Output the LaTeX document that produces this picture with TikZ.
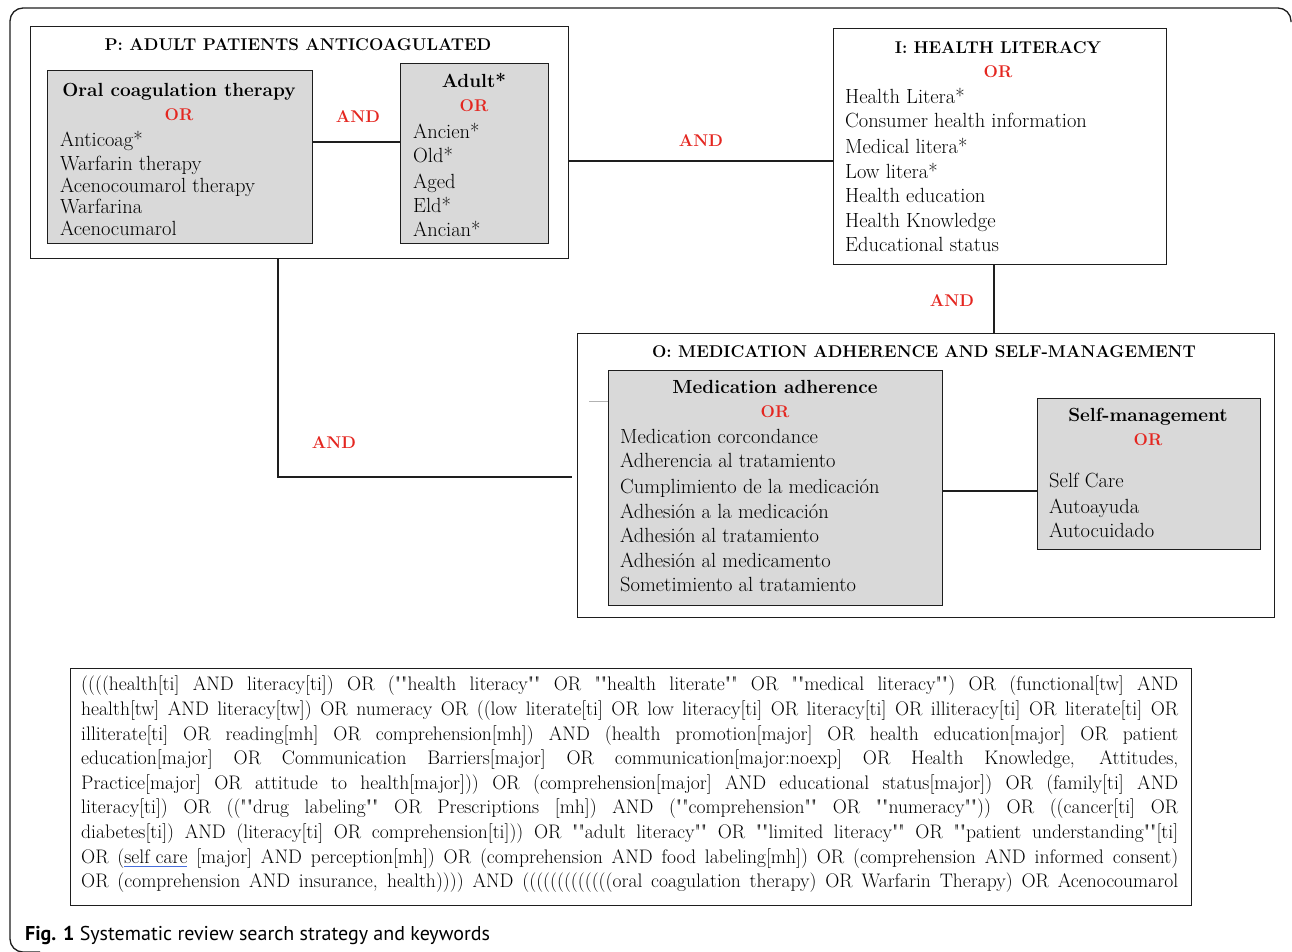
\documentclass[tikz,border=0pt]{standalone}
\usepackage{fontspec}
\newfontfamily\capfont{PT Sans}
\definecolor{orred}{RGB}{228,38,32}
\definecolor{boxgray}{RGB}{217,217,217}
\definecolor{linec}{RGB}{30,30,30}
\definecolor{ulblue}{RGB}{70,110,220}
\newcommand{\qline}[1]{\makebox[1097pt][s]{#1}}
\newcommand{\qq}{\textquotedbl\textquotedbl}
\newcommand{\bluul}[1]{\leavevmode\setbox0\hbox{#1}\rlap{\color{ulblue}\rule[-4pt]{\wd0}{1.2pt}}\box0\relax}
\begin{document}
\begin{tikzpicture}[x=1pt,y=-1pt,
  frame/.style={draw=linec, line width=1.4pt, rectangle, anchor=north west, inner sep=0pt},
  grayframe/.style={frame, fill=boxgray},
  ttl/.style={font=\fontsize{17}{20}\selectfont\bfseries, anchor=base, inner sep=0pt},
  subttl/.style={ttl, font=\fontsize{19}{22}\selectfont\bfseries},
  item/.style={font=\fontsize{20.5}{22}\selectfont, anchor=base west, inner sep=0pt},
  ortxt/.style={font=\fontsize{17}{20}\selectfont\bfseries, text=orred, anchor=base, inner sep=0pt},
  conn/.style={draw=linec, line width=1.3pt},
]
\useasboundingbox (0,0) rectangle (1292,951);
% outer frame
\draw[linec, line width=1.3pt, rounded corners=13] (40,952) -- (10,952) -- (10,8) -- (1291,8) -- (1291,22);

% P box
\node[frame, minimum width=538pt, minimum height=232pt] (P) at (30,26) {};
\node[ttl] (Pt) at (298,50) {P: ADULT PATIENTS ANTICOAGULATED};
\node[grayframe, minimum width=265pt, minimum height=173pt] (oral) at (47,70) {};
\node[subttl] (oralT) at (179,96) {Oral coagulation therapy};
\node[ortxt] (oralOR) at (179,120) {OR};
\node[item] (o1) at (60,146) {Anticoag*};
\node[item] (o2) at (60,170) {Warfarin therapy};
\node[item] (o3) at (60,192) {Acenocoumarol therapy};
\node[item] (o4) at (60,213) {Warfarina};
\node[item] (o5) at (60,235) {Acenocumarol};
\node[grayframe, minimum width=148pt, minimum height=180pt] (adult) at (400,63) {};
\node[subttl] (adultT) at (474,87) {Adult*};
\node[ortxt] (adultOR) at (474,111) {OR};
\node[item] (a1) at (413,138) {Ancien*};
\node[item] (a2) at (413,162) {Old*};
\node[item] (a3) at (413,188) {Aged};
\node[item] (a4) at (413,212) {Eld*};
\node[item] (a5) at (413,236) {Ancian*};
\coordinate (yOA) at (0,142);
\draw[conn] (oral.east |- yOA) -- (adult.west |- yOA);
\node[ortxt] (and1) at (358,122) {AND};

% I box
\node[frame, minimum width=333pt, minimum height=236pt] (I) at (833,28) {};
\node[ttl] (It) at (998,53) {I: HEALTH LITERACY};
\node[ortxt] (IOR) at (998,77) {OR};
\node[item] (i1) at (845,103) {Health Litera*};
\node[item] (i2) at (845,127) {Consumer health information};
\node[item] (i3) at (845,153) {Medical litera*};
\node[item] (i4) at (845,178) {Low litera*};
\node[item] (i5) at (845,202) {Health education};
\node[item] (i6) at (845,227) {Health Knowledge};
\node[item] (i7) at (845,251) {Educational status};
\coordinate (yPI) at (0,161);
\draw[conn] (P.east |- yPI) -- (I.west |- yPI);
\node[ortxt] (and2) at (701,146) {AND};

% O box
\node[frame, minimum width=697pt, minimum height=284pt] (O) at (577,333) {};
\node[ttl] (Ot) at (924,357) {O: MEDICATION ADHERENCE AND SELF-MANAGEMENT};
\node[grayframe, minimum width=334pt, minimum height=235pt] (med) at (608,370) {};
\node[subttl] (medT) at (775,393) {Medication adherence};
\node[ortxt] (medOR) at (775,417) {OR};
\node[item] (m1) at (620,443) {Medication corcondance};
\node[item] (m2) at (620,467) {Adherencia al tratamiento};
\node[item] (m3) at (620,493) {Cumplimiento de la medicación};
\node[item] (m4) at (620,518) {Adhesión a la medicación};
\node[item] (m5) at (620,542) {Adhesión al tratamiento};
\node[item] (m6) at (620,567) {Adhesión al medicamento};
\node[item] (m7) at (620,591) {Sometimiento al tratamiento};
\node[grayframe, minimum width=223pt, minimum height=151pt] (self) at (1037,398) {};
\node[subttl] (selfT) at (1148,421) {Self-management};
\node[ortxt] (selfOR) at (1148,445) {OR};
\node[item] (s1) at (1049,487) {Self Care};
\node[item] (s2) at (1049,513) {Autoayuda};
\node[item] (s3) at (1049,537) {Autocuidado};
\coordinate (yMS) at (0,491);
\draw[conn] (med.east |- yMS) -- (self.west |- yMS);
\coordinate (stub) at (589,401);
\draw[gray!60, line width=0.8pt] (stub) -- (stub -| med.west);

% I to O
\coordinate (xIO) at (994,0);
\draw[conn] (xIO |- I.south) -- (xIO |- O.north);
\node[ortxt] (and3) at (952,306) {AND};

% P to O
\coordinate (pj) at (278,477);
\coordinate (pe) at (572,477);
\draw[conn] (pj |- P.south) -- (pj) -- (pe);
\node[ortxt] (and4) at (334,448) {AND};

% query box
\node[frame, line width=1.2pt, minimum width=1121pt, minimum height=237pt] (q) at (70,668) {};
\node[anchor=north west, inner sep=0pt, align=left, font=\fontsize{19.6}{24.6}\selectfont] (qt) at (81,676) {%
\qline{((((health[ti] AND literacy[ti]) OR (\qq health literacy\qq{} OR \qq health literate\qq{} OR \qq medical literacy\qq) OR (functional[tw] AND}\\
\qline{health[tw] AND literacy[tw]) OR numeracy OR ((low literate[ti] OR low literacy[ti] OR literacy[ti] OR illiteracy[ti] OR literate[ti] OR}\\
\qline{illiterate[ti] OR reading[mh] OR comprehension[mh]) AND (health promotion[major] OR health education[major] OR patient}\\
\qline{education[major] OR Communication Barriers[major] OR communication[major:noexp] OR Health Knowledge, Attitudes,}\\
\qline{Practice[major] OR attitude to health[major])) OR (comprehension[major] AND educational status[major]) OR (family[ti] AND}\\
\qline{literacy[ti]) OR ((\qq drug labeling\qq{} OR Prescriptions [mh]) AND (\qq comprehension\qq{} OR \qq numeracy\qq)) OR ((cancer[ti] OR}\\
\qline{diabetes[ti]) AND (literacy[ti] OR comprehension[ti])) OR \qq adult literacy\qq{} OR \qq limited literacy\qq{} OR \qq patient understanding\qq[ti]}\\
\qline{OR (\bluul{self care} [major] AND perception[mh]) OR (comprehension AND food labeling[mh]) OR (comprehension AND informed consent)}\\
\qline{OR (comprehension AND insurance, health)))) AND (((((((((((((oral coagulation therapy) OR Warfarin Therapy) OR Acenocoumarol}};

% caption
\node[anchor=base west, inner sep=0pt, font=\capfont\fontsize{20}{24}\selectfont] (cap) at (25,940) {\textbf{Fig. 1} Systematic review search strategy and keywords};
\end{tikzpicture}
\end{document}
